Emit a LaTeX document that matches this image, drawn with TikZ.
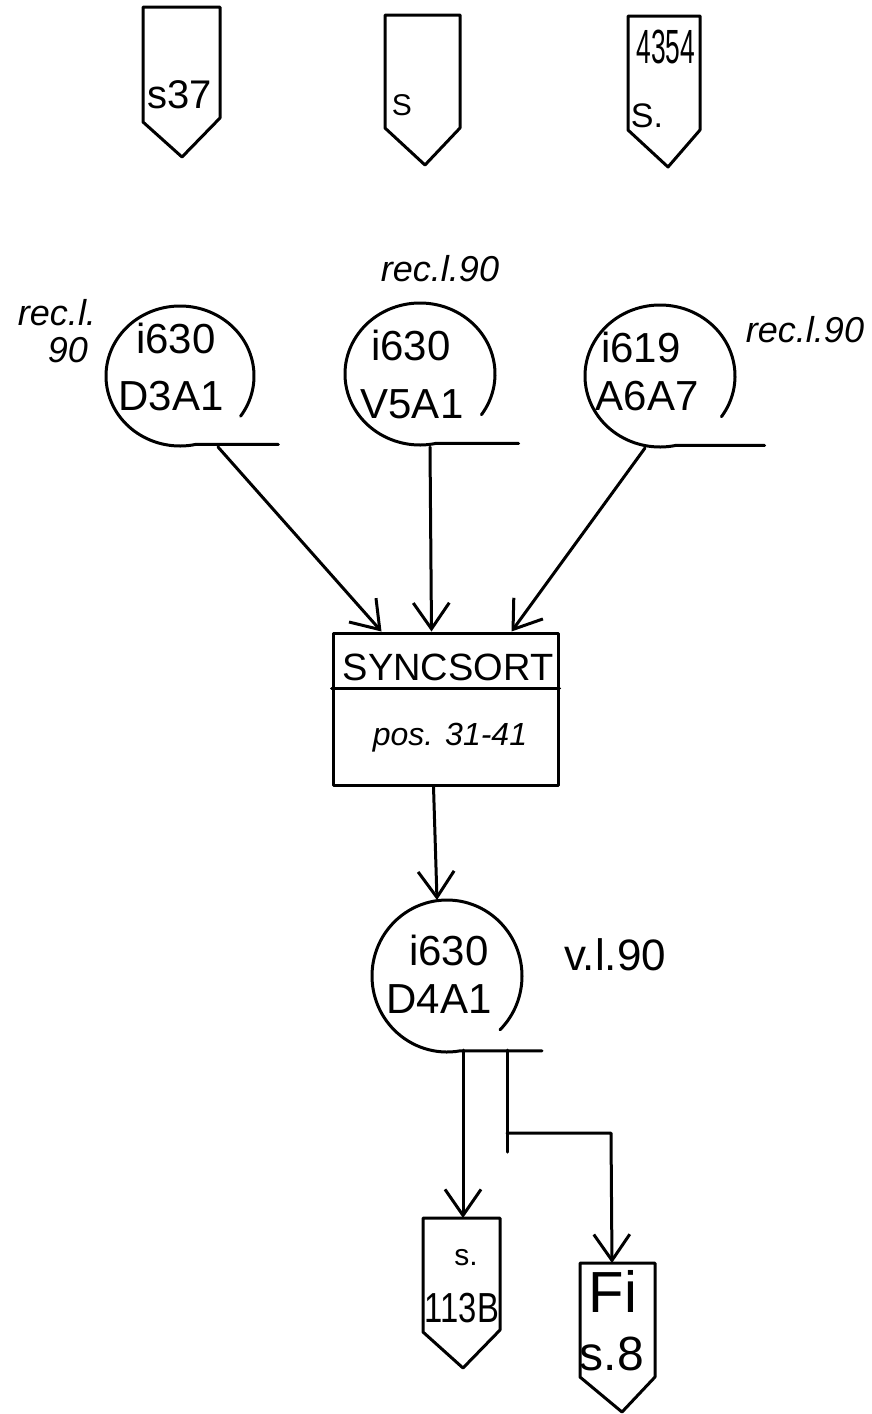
\documentclass[tikz,border=0pt]{standalone}
\usepackage{graphicx}
\usepackage{fontspec}
\setmainfont{Liberation Sans}
\usetikzlibrary{arrows.meta,calc}
\begin{document}
\begin{tikzpicture}[x=1pt,y=1pt,
  ln/.style={line width=3pt, line join=round, line cap=round},
  arr/.style={ln, -{Straight Barb[length=26pt,width=36pt]}},
  big/.style={font=\fontsize{42}{50}\selectfont, inner sep=0pt, anchor=base},
  lab/.style={font=\itshape\fontsize{36}{40}\selectfont, inner sep=0pt, anchor=base},
  txt/.style={inner sep=0pt, anchor=base},
  offpage/.style={ln}
]
\useasboundingbox (0,0) rectangle (871,-1414);

% ---------- top off-page connectors ----------
\draw[offpage] (143,-7) -- (220,-7) -- (220,-118) -- (182,-157) -- (143,-122) -- cycle;
\node[txt, font=\fontsize{40}{44}\selectfont] (t1) at (180,-108) {s37};
\draw[offpage] (385,-15) -- (460,-15) -- (460,-128) -- (425,-165) -- (385,-128) -- cycle;
\node[txt, font=\fontsize{30}{34}\selectfont] (t2) at (402,-115) {S};
\draw[offpage] (628,-16) -- (700,-16) -- (700,-130) -- (668,-167) -- (628,-130) -- cycle;
\node[txt, font=\fontsize{48}{50}\selectfont] (t3a) at (666,-63) {\scalebox{0.55}[1]{4354}};
\node[txt, font=\fontsize{34}{40}\selectfont] (t3b) at (647,-127) {S.};

% ---------- input files ----------
\coordinate (c1c) at (180,-376);
\draw[ln] ($(c1c)+(-35:74 and 70)$) arc[start angle=-35, end angle=282, x radius=74, y radius=70] -- ++(83,0);
\node[big] (c1a) at (176,-353) {i630};
\node[big] (c1b) at (171,-410) {D3A1};

\coordinate (c2c) at (420,-374);
\draw[ln] ($(c2c)+(-35:75 and 71)$) arc[start angle=-35, end angle=282, x radius=75, y radius=71] -- ++(83,0);
\node[big] (c2a) at (411,-360) {i630};
\node[big] (c2b) at (412,-418) {V5A1};

\coordinate (c3c) at (660,-376);
\draw[ln] ($(c3c)+(-35:75 and 71)$) arc[start angle=-35, end angle=282, x radius=75, y radius=71] -- ++(89,0);
\node[big] (c3a) at (641,-362) {i619};
\node[big] (c3b) at (647,-410) {A6A7};

\node[lab] (l1a) at (57,-325) {rec.l.};
\node[lab] (l1b) at (68,-362) {90};
\node[lab] (l2) at (440,-281) {rec.l.90};
\node[lab] (l3) at (805,-342) {rec.l.90};

% ---------- sort step ----------
\node[draw, ln, minimum width=225pt, minimum height=152pt, inner sep=0pt] (sync) at (445.5,-709) {};
\draw[ln] ($(sync.north west)+(0,-57)$) -- ($(sync.north east)+(0,-57)$);
\node[txt, font=\fontsize{38}{40}\selectfont] (synct) at (448,-680) {SYNCSORT};
\node[txt, font=\itshape\fontsize{32}{36}\selectfont] (syncp) at (450,-745) {pos. 31-41};

\coordinate (c1o) at (218,-447);
\coordinate (c2o) at (430,-447);
\coordinate (c3o) at (645,-448);
\coordinate (s1) at ($(sync.north west)+(50,0)$);
\coordinate (s2) at ($(sync.north west)+(100,0)$);
\coordinate (s3) at ($(sync.north west)+(180,0)$);
\draw[arr] (c1o) -- (s1);
\draw[arr] (c2o) -- (s2);
\draw[arr] (c3o) -- (s3);

% ---------- output file ----------
\coordinate (c4c) at (447,-976);
\draw[ln] ($(c4c)+(-45:75 and 76)$) arc[start angle=-45, end angle=280, x radius=75, y radius=76] -- ++(82,0);
\node[big] (c4a) at (449,-965) {i630};
\node[big] (c4b) at (439,-1013) {D4A1};
\node[txt, font=\fontsize{44}{46}\selectfont] (l4) at (615,-970) {v.l.90};

\coordinate (so) at ($(sync.south west)+(102,0)$);
\coordinate (c4top) at (437,-900);
\draw[arr] (so) -- (c4top);

% ---------- bottom off-page connectors ----------
\draw[offpage] (423,-1218) -- (500,-1218) -- (500,-1330) -- (463,-1368) -- (423,-1332) -- cycle;
\node[txt, font=\fontsize{30}{34}\selectfont] (b1a) at (466,-1265) {s.};
\node[txt, font=\fontsize{42}{44}\selectfont] (b1b) at (462,-1322) {\scalebox{0.78}[1]{113B}};
\draw[offpage] (580,-1263) -- (655,-1263) -- (655,-1377) -- (622,-1412) -- (580,-1377) -- cycle;
\node[txt, font=\fontsize{58}{60}\selectfont] (b2a) at (613,-1312) {Fi};
\node[txt, font=\fontsize{48}{50}\selectfont] (b2b) at (612,-1370) {s.8};

\coordinate (d1) at (463,-1050);
\coordinate (b1top) at (463,-1218);
\draw[arr] (d1) -- (b1top);
\coordinate (d2) at (507,-1050);
\coordinate (d2end) at (507,-1152);
\draw[ln] (d2) -- (d2end);
\coordinate (br) at (507,-1133);
\coordinate (brc) at (611,-1133);
\coordinate (b2top) at (612,-1263);
\draw[arr] (br) -- (brc) -- (b2top);
\end{tikzpicture}
\end{document}
